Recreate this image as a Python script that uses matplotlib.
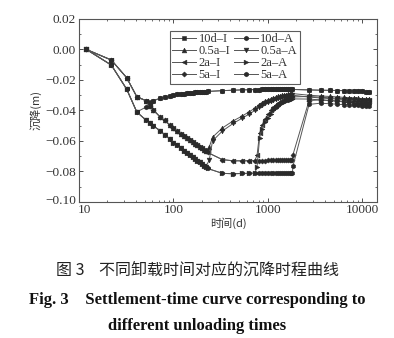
import matplotlib
matplotlib.use('Agg')
import matplotlib.pyplot as plt
import matplotlib.transforms as mtransforms
from matplotlib.ticker import FixedLocator, NullFormatter, LogLocator, FixedFormatter

# ---------------- data ----------------
# shared loading-phase time grid (days)
t_load = [12, 22, 32, 41, 51, 56, 61, 72, 81, 91,
          100, 110, 120, 130, 140, 150, 160, 170, 180, 190, 200, 210, 220, 230,
          330, 430, 530, 630, 730,
          800, 870, 940, 1010, 1080, 1150, 1220, 1290, 1360, 1430, 1500, 1570, 1640, 1710, 1780,
          1825]
s_load_I = [0.0, -0.0069, -0.0185, -0.0310, -0.0335, -0.0372, -0.0395, -0.0441, -0.0465, -0.0495,
            -0.0517, -0.0535, -0.0551, -0.0567, -0.0581, -0.0594, -0.0606, -0.0617, -0.0628, -0.0638,
            -0.0648, -0.0657, -0.0666, -0.0675,
            -0.0722, -0.0730, -0.0730, -0.0729, -0.0728,
            -0.0728, -0.0728, -0.0728, -0.0727, -0.0727, -0.0727, -0.0727, -0.0727, -0.0726, -0.0726,
            -0.0726, -0.0726, -0.0726, -0.0726, -0.0726,
            -0.0726]
s_load_A = [0.0, -0.0102, -0.0260, -0.0410, -0.0462, -0.0482, -0.0500, -0.0532, -0.0560, -0.0585,
            -0.0610, -0.0629, -0.0647, -0.0664, -0.0678, -0.0693, -0.0706, -0.0718, -0.0730, -0.0741,
            -0.0752, -0.0761, -0.0771, -0.0780,
            -0.0812, -0.0815, -0.0813, -0.0812, -0.0811,
            -0.0811, -0.0811, -0.0810, -0.0810, -0.0810, -0.0810, -0.0810, -0.0810, -0.0810, -0.0810,
            -0.0811, -0.0811, -0.0811, -0.0811, -0.0812,
            -0.0812]

# long-term times after 5 years
t_post = [2740, 3650, 4560, 5475, 6390, 7300, 8210, 9125, 10040, 10950, 11860]

# 10d unloading
t_10d = [56, 61, 72, 81, 91,
         100, 110, 120, 130, 140, 150, 160, 170, 180, 190, 200, 210, 220, 230,
         330, 430, 530, 630, 730,
         800, 870, 940, 1010, 1080, 1150, 1220, 1290, 1360, 1430, 1500, 1570, 1640, 1710, 1780,
         1825]
s_10d = [-0.0345, -0.0335, -0.0320, -0.0313, -0.0306,
         -0.0298, -0.0295, -0.0292, -0.0290, -0.0288, -0.0286, -0.0284, -0.0282, -0.0281, -0.0279,
         -0.0278, -0.0277, -0.0276, -0.0275,
         -0.0270, -0.0267, -0.0265, -0.0264, -0.0263,
         -0.0263, -0.0262, -0.0262, -0.0262, -0.0262, -0.0262, -0.0262, -0.0262, -0.0262, -0.0262,
         -0.0262, -0.0262, -0.0262, -0.0262, -0.0262,
         -0.0262]
s_10d_post = [-0.0265, -0.0267, -0.0268, -0.0269, -0.0270, -0.0271, -0.0272, -0.0274, -0.0275, -0.0276, -0.0278]
t_10dA_start = [51, 56, 61]
s_10dA_start = [-0.0378, -0.0350, -0.0338]

# 0.5a unloading
t_05a = [240, 260, 330, 430, 530, 630, 730,
         800, 870, 940, 1010, 1080, 1150, 1220, 1290, 1360, 1430, 1500, 1570, 1640, 1710, 1780,
         1825]
s_05a_I = [-0.0640, -0.0575, -0.0515, -0.0468, -0.0438, -0.0410, -0.0385,
           -0.0365, -0.0350, -0.0339, -0.0330, -0.0323, -0.0317, -0.0312, -0.0308, -0.0304, -0.0301,
           -0.0298, -0.0296, -0.0294, -0.0292, -0.0290,
           -0.0289]
s_05a_A = [-0.0725, -0.0600, -0.0535, -0.0485, -0.0452, -0.0425, -0.0400,
           -0.0380, -0.0364, -0.0352, -0.0343, -0.0336, -0.0330, -0.0325, -0.0320, -0.0316, -0.0313,
           -0.0310, -0.0307, -0.0305, -0.0303, -0.0301,
           -0.0300]
s_05a_I_post = [-0.0300, -0.0305, -0.0308, -0.0311, -0.0314, -0.0316, -0.0318, -0.0320, -0.0322, -0.0323, -0.0325]
s_05a_A_post = [-0.0312, -0.0318, -0.0322, -0.0325, -0.0328, -0.0331, -0.0333, -0.0335, -0.0337, -0.0339, -0.0340]

# 2a unloading
t_2a = [770, 820, 870, 940, 1010, 1080, 1150, 1220, 1290, 1360, 1430, 1500, 1570, 1640, 1710, 1780, 1825]
s_2a_I = [-0.0695, -0.0550, -0.0495, -0.0455, -0.0425, -0.0400, -0.0380, -0.0365, -0.0353, -0.0343,
          -0.0335, -0.0328, -0.0323, -0.0319, -0.0316, -0.0313, -0.0311]
s_2a_A = [-0.0770, -0.0580, -0.0520, -0.0478, -0.0446, -0.0420, -0.0400, -0.0384, -0.0371, -0.0360,
          -0.0351, -0.0344, -0.0338, -0.0333, -0.0329, -0.0326, -0.0324]
s_2a_I_post = [-0.0308, -0.0313, -0.0317, -0.0320, -0.0323, -0.0325, -0.0327, -0.0329, -0.0331, -0.0332, -0.0334]
s_2a_A_post = [-0.0325, -0.0331, -0.0336, -0.0340, -0.0343, -0.0346, -0.0348, -0.0350, -0.0352, -0.0354, -0.0356]

# 5a unloading
t_5a = [1850]
s_5a_I = [-0.0690]
s_5a_A = [-0.0765]
s_5a_I_post = [-0.0335, -0.0330, -0.0334, -0.0337, -0.0340, -0.0342, -0.0344, -0.0346, -0.0348, -0.0349, -0.0351]
s_5a_A_post = [-0.0360, -0.0352, -0.0356, -0.0359, -0.0362, -0.0364, -0.0366, -0.0367, -0.0369, -0.0370, -0.0372]

labels_I = ['10d–I', '0.5a–I', '2a–I', '5a–I']
labels_A = ['10d–A', '0.5a–A', '2a–A', '5a–A']

# ---------------- assemble curves ----------------
i51 = t_load.index(51)
i41 = t_load.index(41)
i220 = t_load.index(220)
i730 = t_load.index(730)

curves_I = [
    (t_load[:i51 + 1] + t_10d + t_post, s_load_I[:i51 + 1] + s_10d + s_10d_post),
    (t_load[:i220 + 1] + t_05a + t_post, s_load_I[:i220 + 1] + s_05a_I + s_05a_I_post),
    (t_load[:i730 + 1] + t_2a + t_post, s_load_I[:i730 + 1] + s_2a_I + s_2a_I_post),
    (t_load + t_5a + t_post, s_load_I + s_5a_I + s_5a_I_post),
]
curves_A = [
    (t_load[:i41 + 1] + t_10dA_start + t_10d[2:] + t_post,
     s_load_A[:i41 + 1] + s_10dA_start + s_10d[2:] + s_10d_post),
    (t_load[:i220 + 1] + t_05a + t_post, s_load_A[:i220 + 1] + s_05a_A + s_05a_A_post),
    (t_load[:i730 + 1] + t_2a + t_post, s_load_A[:i730 + 1] + s_2a_A + s_2a_A_post),
    (t_load + t_5a + t_post, s_load_A + s_5a_A + s_5a_A_post),
]
markers_I = ['s', '^', '<', 'D']
markers_A = ['h', 'v', '>', 'h']
msize_I = [3.0, 3.4, 3.4, 2.6]
msize_A = [3.4, 3.4, 3.4, 3.4]

# ---------------- plot ----------------
SERIF = 'Liberation Serif'
CJK = ['Noto Sans CJK SC', 'DejaVu Sans']
plt.rcParams['font.family'] = [SERIF, 'Noto Sans CJK SC', 'DejaVu Sans']
plt.rcParams['axes.unicode_minus'] = True

fig = plt.figure(figsize=(3.94, 3.38), dpi=100)
ax = fig.add_axes([0.2005, 0.4024, 0.7565, 0.5414])

line_c = '#555555'
mark_c = '#2a2a2a'
handles = []
for (t, s), m, ms, lab in zip(curves_I, markers_I, msize_I, labels_I):
    h, = ax.plot(t, s, color=line_c, lw=0.7, marker=m, ms=ms, mfc=mark_c, mec=mark_c,
                 mew=0.4, label=lab)
    handles.append(h)
for (t, s), m, ms, lab in zip(curves_A, markers_A, msize_A, labels_A):
    h, = ax.plot(t, s, color=line_c, lw=0.7, marker=m, ms=ms, mfc=mark_c, mec=mark_c,
                 mew=0.4, label=lab)
    handles.append(h)

ax.set_xscale('log')
ax.set_xlim(10, 14400)
ax.set_ylim(-0.10, 0.02)
ax.xaxis.set_major_locator(FixedLocator([10, 100, 1000, 10000]))
ax.xaxis.set_major_formatter(FixedFormatter(['10', '100', '1000', '10000']))
ax.xaxis.set_minor_locator(LogLocator(base=10, subs=range(2, 10)))
ax.xaxis.set_minor_formatter(NullFormatter())
yt = [0.02, 0.0, -0.02, -0.04, -0.06, -0.08, -0.10]
ax.yaxis.set_major_locator(FixedLocator(yt))
ax.yaxis.set_major_formatter(FixedFormatter(['0.02', '0.00', '−0.02', '−0.04', '−0.06', '−0.08', '−0.10']))
ax.yaxis.set_minor_locator(FixedLocator([0.01, -0.01, -0.03, -0.05, -0.07, -0.09]))
ax.tick_params(which='both', direction='in', top=True, right=True, labelsize=9.5, colors='#333333')
ax.tick_params(which='major', length=3, width=0.6)
ax.tick_params(which='minor', length=1.6, width=0.5)
ax.tick_params(axis='x', pad=1.5)
ax.tick_params(axis='y', pad=2)
for sp in ax.spines.values():
    sp.set_color('#555555')
    sp.set_linewidth(0.8)

# corner labels: nudge "10" right and "−0.10" up so they do not collide
fig.canvas.draw()
xlabs = ax.get_xticklabels()
xlabs[0].set_transform(xlabs[0].get_transform() +
                       mtransforms.ScaledTranslation(4 / 72, 0, fig.dpi_scale_trans))
ylabs = ax.get_yticklabels()
ylabs[-1].set_transform(ylabs[-1].get_transform() +
                        mtransforms.ScaledTranslation(0, 2 / 72, fig.dpi_scale_trans))

ax.set_xlabel('时间(d)', family=CJK, fontsize=8, color='#333333', labelpad=1)
ax.set_ylabel('沉降(m)', family=CJK, fontsize=8, color='#333333', labelpad=3)

leg = ax.legend(handles=handles, ncol=2, loc='upper left', bbox_to_anchor=(0.305, 0.935),
                prop={'family': SERIF, 'size': 9}, frameon=True, fancybox=False,
                edgecolor='#333333', handlelength=1.9, handletextpad=0.2,
                columnspacing=0.3, labelspacing=0.0, borderpad=0.2, borderaxespad=0)
leg.get_frame().set_linewidth(0.8)
for txt in leg.get_texts():
    txt.set_color('#333333')

fig.text(0.5, 1 - 270 / 338, '图 3    不同卸载时间对应的沉降时程曲线', ha='center', va='center',
         family=CJK, fontsize=11.5, color='#222222')
fig.text(0.5, 1 - 300 / 338, 'Fig. 3    Settlement-time curve corresponding to', ha='center',
         va='center', family=SERIF, fontsize=12, weight='bold', color='#111111')
fig.text(0.5, 1 - 326 / 338, 'different unloading times', ha='center', va='center',
         family=SERIF, fontsize=12, weight='bold', color='#111111')

fig.savefig('out.png', dpi=100)
